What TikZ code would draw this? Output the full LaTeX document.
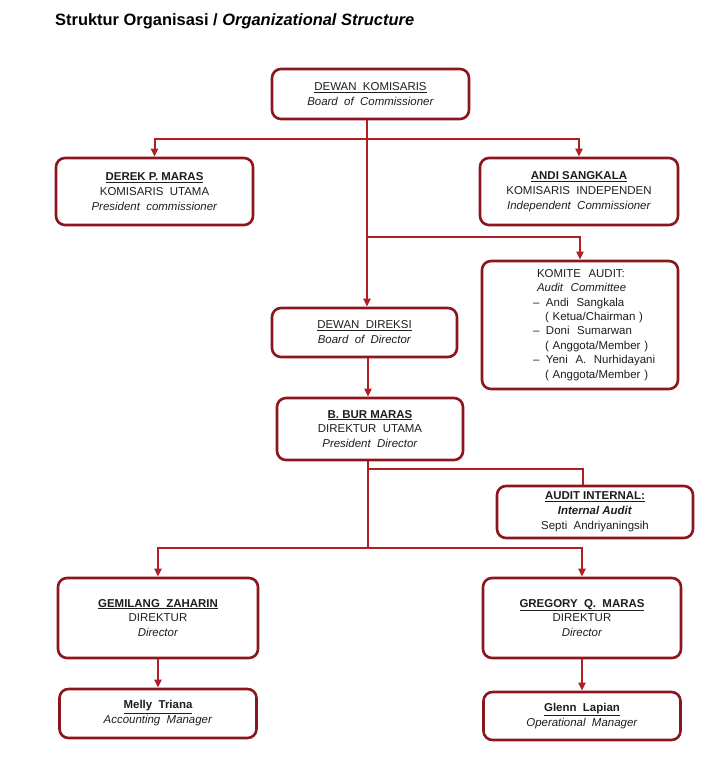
\documentclass[tikz,border=0pt]{standalone}
\usepackage{fontspec}
\setmainfont{Liberation Sans}
\usepackage{tikz}
\usetikzlibrary{arrows.meta}
\definecolor{boxred}{RGB}{140,22,30}
\definecolor{linered}{RGB}{178,30,38}
\definecolor{textgray}{RGB}{30,30,30}
\tikzstyle{orgbox} = [draw=boxred, fill=white, line width=2.6bp,
    rectangle, rounded corners=9bp, align=center, text=textgray,
    font=\fontsize{11.5}{15}\selectfont, inner sep=0pt]
\tikzstyle{link} = [draw=linered, line width=2bp]
\tikzstyle{linkarrow} = [link, -{Triangle[length=8bp,width=7bp]}]
\tikzstyle{pagetitle} = [font=\fontsize{16.5}{19}\selectfont\bfseries, anchor=base west, inner sep=0pt]

\begin{document}
\begin{tikzpicture}[x=1bp, y=-1bp]
                \useasboundingbox (0,0) rectangle (720,763);
                \fill[white] (0,0) rectangle (720,763);
                \node[pagetitle] (title) at (55,26) {Struktur Organisasi / \textit{Organizational Structure}};
                % commissioners
                \node[orgbox, minimum width=197bp, minimum height=50bp] (dk) at (370.5,94)
                    {\underline{DEWAN~~KOMISARIS}\\\textit{Board~~of~~Commissioner}};
                \node[orgbox, minimum width=197bp, minimum height=67bp] (derek) at (154.5,191.5)
                    {\textbf{\underline{DEREK P. MARAS}}\\KOMISARIS~~UTAMA\\\textit{President~~commissioner}};
                \node[orgbox, minimum width=198bp, minimum height=67bp] (andi) at (579,191.5)
                    {\textbf{\underline{ANDI SANGKALA}}\\KOMISARIS~~INDEPENDEN\\\textit{Independent~~Commissioner}};
                \node[orgbox, minimum width=196bp, minimum height=128bp, align=left, text width=176bp,
                    font=\fontsize{11.5}{14.4}\selectfont] (komite) at (580,325)
                    {\hspace*{45bp}KOMITE~~AUDIT:\\
                     \hspace*{45bp}\textit{Audit~~Committee}\\
                     \hspace*{41bp}\makebox[13bp][l]{--}Andi~~Sangkala\\
                     \hspace*{53bp}(~Ketua/Chairman~)\\
                     \hspace*{41bp}\makebox[13bp][l]{--}Doni~~Sumarwan\\
                     \hspace*{53bp}(~Anggota/Member~)\\
                     \hspace*{41bp}\makebox[13bp][l]{--}Yeni~~A.~~Nurhidayani\\
                     \hspace*{53bp}(~Anggota/Member~)};
                % directors
                \node[orgbox, minimum width=185bp, minimum height=49bp] (dd) at (364.5,332.5)
                    {\underline{DEWAN~~DIREKSI}\\\textit{Board~~of~~Director}};
                \node[orgbox, minimum width=186bp, minimum height=62bp] (bbur) at (370,429)
                    {\textbf{\underline{B. BUR MARAS}}\\DIREKTUR~~UTAMA\\\textit{President~~Director}};
                \node[orgbox, minimum width=196bp, minimum height=52bp] (ai) at (595,512)
                    {\textbf{\underline{AUDIT INTERNAL:}}\\\textbf{\textit{Internal Audit}}\\Septi~~Andriyaningsih};
                \node[orgbox, minimum width=200bp, minimum height=80bp] (gemilang) at (158,618)
                    {\textbf{\underline{GEMILANG~~ZAHARIN}}\\DIREKTUR\\\textit{Director}};
                \node[orgbox, minimum width=198bp, minimum height=80bp] (gregory) at (582,618)
                    {\textbf{\underline{GREGORY~~Q.~~MARAS}}\\DIREKTUR\\\textit{Director}};
                \node[orgbox, minimum width=197bp, minimum height=49bp] (melly) at (158,713.5)
                    {\textbf{\underline{Melly~~Triana}}\\\textit{Accounting~~Manager}};
                \node[orgbox, minimum width=197bp, minimum height=48bp] (glenn) at (582,716)
                    {\textbf{\underline{Glenn~~Lapian}}\\\textit{Operational~~Manager}};
                % junctions
                \coordinate (j1) at (367,139);
                \coordinate (j2) at (367,237);
                \coordinate (j3) at (368,469);
                \coordinate (j4) at (368,548);
                \draw[linkarrow] (dk.south -| j1) -- (dd.north -| j1);
                \draw[linkarrow] (j1) -| (derek.north);
                \draw[linkarrow] (j1) -| (andi.north);
                \draw[linkarrow] (j2) -| (komite.north);
                \draw[linkarrow] (dd.south -| j3) -- (bbur.north -| j3);
                \draw[link] (bbur.south -| j3) -- (j4);
                \draw[link] (j3) -| ([xshift=-12bp]ai.north);
                \draw[linkarrow] (j4) -| (gemilang.north);
                \draw[linkarrow] (j4) -| (gregory.north);
                \draw[linkarrow] (gemilang) -- (melly);
                \draw[linkarrow] (gregory) -- (glenn);
            \end{tikzpicture}
\end{document}
